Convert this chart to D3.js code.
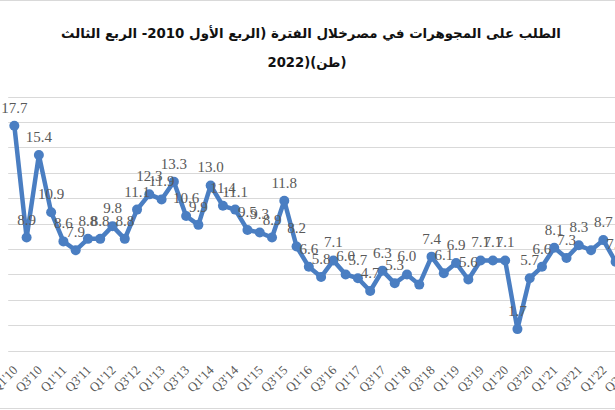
<!DOCTYPE html>
<html><head><meta charset="utf-8">
<script src="https://cdn.jsdelivr.net/npm/d3@7"></script>
<style>html,body{margin:0;padding:0;background:#fff;overflow:hidden}</style>
</head><body>
<script>
const titleLine1 = "الطلب على المجوهرات في مصرخلال الفترة (الربع الأول 2010- الربع الثالث";
const titleLine2 = "2022)(طن)";
const categories = [];
for (let yr = 10; yr <= 22; yr++) for (let q = 1; q <= 4; q++) {
  if (yr === 22 && q > 3) break;
  categories.push("Q" + q + "'" + yr);
}
const values = [17.7, 8.9, 15.4, 10.9, 8.6, 7.9, 8.8, 8.8, 9.8, 8.8,
  11.1, 12.3, 11.9, 13.3, 10.6, 9.9, 13.0, 11.4, 11.1, 9.5,
  9.3, 8.9, 11.8, 8.2, 6.6, 5.8, 7.1, 6.0, 5.7, 4.7,
  6.3, 5.3, 6.0, 5.2, 7.4, 6.1, 6.9, 5.6, 7.1, 7.1,
  7.1, 1.7, 5.7, 6.6, 8.1, 7.3, 8.3, 7.9, 8.7, 7.0, 7.6];
// points whose data label is not shown in the reference
const unlabeled = ["Q2'18", "Q4'21"];
const yTicks = [0, 2, 4, 6, 8, 10, 12, 14, 16, 18, 20];
const tickLabels = categories.filter((d, i) => i % 2 === 0);

const W = 615, H = 410;
const svg = d3.select("body").append("svg").attr("width", W).attr("height", H);
svg.append("rect").attr("width", W).attr("height", H).attr("fill", "#fff");
svg.append("rect").attr("x", -10).attr("y", 0.5).attr("width", W + 20).attr("height", 408)
  .attr("fill", "none").attr("stroke", "#d9d9d9").attr("stroke-width", 1);

const x = d3.scaleBand().domain(categories).range([8.2, 634]);
const cx = d => x(d) + x.bandwidth() / 2;
const y = d3.scaleLinear().domain([0, 20]).range([350.7, 96.5]);

svg.append("g").selectAll("line").data(yTicks).join("line")
  .attr("x1", 8.2).attr("x2", 634)
  .attr("y1", d => Math.round(y(d)) + 0.5).attr("y2", d => Math.round(y(d)) + 0.5)
  .attr("stroke", "#d9d9d9").attr("stroke-width", 1);

svg.append("g").selectAll("text").data(tickLabels).join("text")
  .attr("transform", d => `translate(${cx(d) + 4},${371}) rotate(-45)`)
  .attr("text-anchor", "end")
  .attr("font-family", "Liberation Serif, serif").attr("font-size", 13)
  .attr("fill", "#595959").text(d => d);

const pts = categories.map((c, i) => ({c, v: values[i]}));
svg.append("path").datum(pts)
  .attr("d", d3.line().x(d => cx(d.c)).y(d => y(d.v)))
  .attr("fill", "none").attr("stroke", "#4A7EC2").attr("stroke-width", 4.5)
  .attr("stroke-linejoin", "round");
svg.append("g").selectAll("circle").data(pts).join("circle")
  .attr("cx", d => cx(d.c)).attr("cy", d => y(d.v)).attr("r", 5)
  .attr("fill", "#4A7EC2");

svg.append("g").selectAll("text").data(pts.filter(d => !unlabeled.includes(d.c))).join("text")
  .attr("x", d => cx(d.c)).attr("y", d => y(d.v) - 13)
  .attr("text-anchor", "middle")
  .attr("font-family", "Liberation Serif, serif").attr("font-size", 15)
  .attr("fill", "#595959").text(d => d.v.toFixed(1));

const t1 = svg.append("text").attr("x", 311).attr("y", 38).attr("text-anchor", "middle")
  .attr("font-family", "DejaVu Sans, sans-serif").attr("font-weight", "bold")
  .attr("font-size", 16).attr("fill", "#111").text(titleLine1);
const t2 = svg.append("text").attr("x", 307).attr("y", 67).attr("text-anchor", "middle")
  .attr("font-family", "DejaVu Sans, sans-serif").attr("font-weight", "bold")
  .attr("font-size", 16).attr("fill", "#111").text(titleLine2);
const w1 = t1.node().getComputedTextLength();
if (w1 > 0) t1.attr("font-size", 16 * 500 / w1);
const w2 = t2.node().getComputedTextLength();
if (w2 > 0) t2.attr("font-size", Math.min(18, 16 * 79 / w2));
</script>
</body></html>
